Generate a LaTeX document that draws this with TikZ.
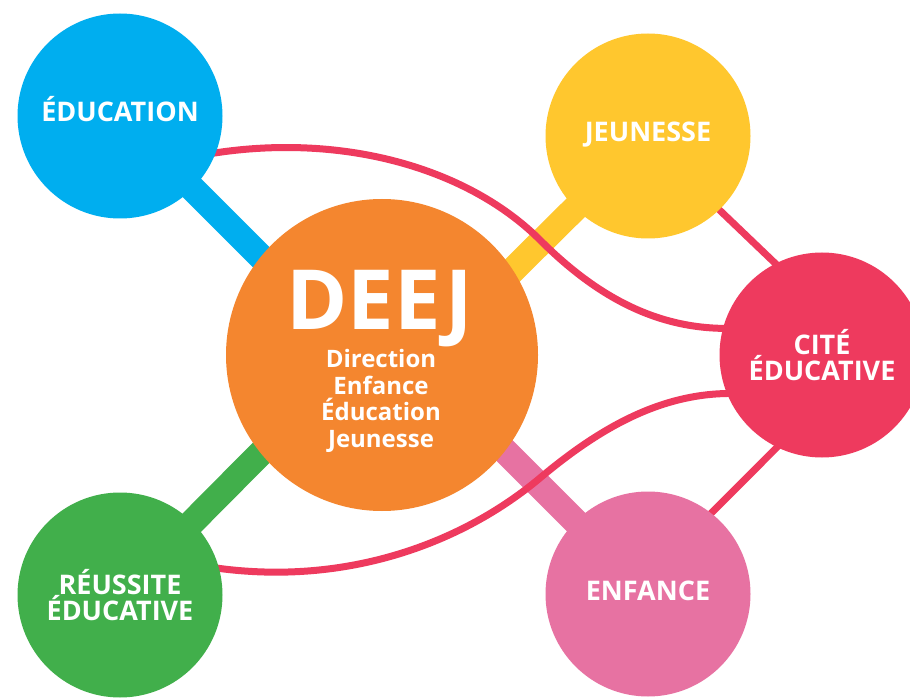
\documentclass[tikz,border=0pt]{standalone}
\usepackage{fontspec}
\setmainfont{Open Sans}
\usetikzlibrary{backgrounds}
\definecolor{edublue}{HTML}{00AEEF}
\definecolor{jeunyellow}{HTML}{FFC72E}
\definecolor{deejorange}{HTML}{F4862F}
\definecolor{citered}{HTML}{EE3A5E}
\definecolor{reusgreen}{HTML}{41AF4B}
\definecolor{enfpink}{HTML}{E772A2}
\tikzset{theme node/.style={circle, minimum size=205pt, inner sep=0pt, text=white, align=center, font=\bfseries\fontsize{27}{24}\selectfont},
  one line/.style={text height=19pt, text depth=7pt},
  hub node/.style={circle, minimum size=312pt, inner sep=0pt, fill=deejorange},
  bar/.style={line width=26pt, shorten >=-40pt},
  link/.style={draw=citered, line width=7pt, shorten <=-4pt, shorten >=-4pt},}

\begin{document}
\begin{tikzpicture}[x=1pt, y=1pt]
        \clip (0,0) rectangle (910,697);
        % Nodes
        \node[hub node] (deej) at (382,342) {};
        \node[text=white, font=\bfseries\fontsize{83}{83}\selectfont, anchor=base, inner sep=0pt] (deejname) at (380,367) {DEEJ};
        \node[text=white, font=\bfseries\fontsize{24}{26.7}\selectfont, align=center, inner sep=0pt] (deejfull) at (381,296) {Direction\\Enfance\\Éducation\\Jeunesse};
        \node[theme node, one line, fill=edublue] (edu) at (120,581) {ÉDUCATION};
        \node[theme node, one line, fill=jeunyellow] (jeun) at (648,561) {JEUNESSE};
        \node[theme node, fill=citered] (cite) at (822,342) {CITÉ\\ÉDUCATIVE};
        \node[theme node, fill=reusgreen] (reus) at (120,102) {RÉUSSITE\\ÉDUCATIVE};
        \node[theme node, one line, fill=enfpink] (enf) at (648,103) {ENFANCE};
        \coordinate (upcross) at (540,457);
        \coordinate (lowcross) at (540,219);
        % Paths
        \begin{scope}[on background layer]
        \fill[white] (0,0) rectangle (910,697);
        \draw[bar, edublue] (edu.center) -- (deej.141);
        \draw[bar, jeunyellow] (jeun.center) -- (deej.33);
        \draw[bar, reusgreen] (reus.center) -- (deej.219);
        \draw[bar, enfpink] (enf.center) -- (deej.322);
        \draw[link] (edu.-21) .. controls +(9:132) and +(135:99) .. (upcross)
                .. controls +(-45:85) and +(180:63) .. (cite.165);
        \draw[link] (reus.15) .. controls +(-8:130) and +(220:100) .. (lowcross)
                .. controls +(40:80) and +(180:65) .. (cite.202);
        \draw[link] (jeun.-46) -- (cite.117);
        \draw[link] (enf.52) -- (cite.244);
        \end{scope}
\end{tikzpicture}
\end{document}
